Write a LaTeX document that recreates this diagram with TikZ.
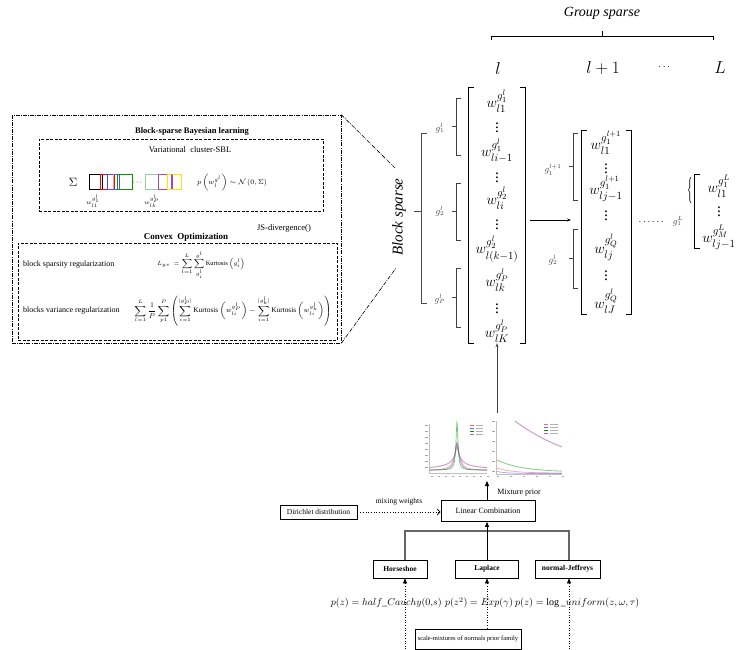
\documentclass[tikz,border=0pt]{standalone}
\usepackage{amsmath}
\usepackage{fontspec}
\setmainfont{Liberation Serif}
\usetikzlibrary{arrows.meta,decorations.pathreplacing}
\begin{document}
\begin{tikzpicture}[x=1pt,y=-1pt,
  txt/.style={inner sep=0pt, font=\fontsize{8}{9}\selectfont},
  ent/.style={inner sep=0pt, font=\fontsize{15.5}{16}\selectfont},
  glab/.style={inner sep=0pt, font=\fontsize{9}{10}\selectfont, text=black!75},
  bigl/.style={inner sep=0pt, font=\fontsize{16}{17}\selectfont},
  ddash/.style={dash pattern=on 3pt off 1.5pt, line width=0.7pt},
  dashdotline/.style={dash pattern=on 4pt off 1.2pt on 0.8pt off 1.2pt, line width=0.6pt},
  brk/.style={line width=0.6pt, black!75},
  mbrk/.style={line width=1.3pt},
  pbox/.style={draw, line width=0.8pt, inner sep=0pt, font=\fontsize{7.5}{9}\selectfont},
  thinarrow/.style={-{Stealth[length=4pt,width=3pt]}},
  tri/.style={-{Triangle[length=5pt,width=4pt]}},
]
\useasboundingbox (0,0) rectangle (737,649);

% ---------- Group sparse ----------
\node[inner sep=0, font=\fontsize{14}{16}\selectfont\itshape] (gs) at (602,13) {Group sparse};
\coordinate (gbL) at (491,40); \coordinate (gbR) at (713,40);
\coordinate (gbC) at (602,36); \coordinate (gbT) at (602,31);
\draw[line width=0.6pt] (gbL) -- (gbL |- gbC) -- (gbR |- gbC) -- (gbR);
\draw[line width=0.6pt] (gbC) -- (gbT);
\node[bigl] (ll) at (498,68) {$l$};
\node[bigl] (ll1) at (603,68) {$l+1$};
\node[inner sep=0, font=\fontsize{10}{11}\selectfont] (ldots) at (665,67) {$\cdots$};
\node[bigl] (lL) at (720,68) {$L$};

% ---------- left panel ----------
\node[draw, dashdotline, minimum width=329, minimum height=228, inner sep=0] (panel) at (176.5,229) {};
\node[draw, ddash, minimum width=284, minimum height=72, inner sep=0] (bsbl) at (181,175) {};
\node[draw, ddash, minimum width=319, minimum height=97, inner sep=0] (cvx) at (177.5,291.5) {};

\node[txt, font=\fontsize{8.5}{9}\selectfont\bfseries] (t1) at (192,131) {Block-sparse Bayesian learning};
\node[txt, font=\fontsize{8.5}{9}\selectfont] (t2) at (190,150) {Variational\ \ cluster-SBL};
\node[inner sep=0, font=\fontsize{12}{13}\selectfont] (sig) at (73,182) {$\Sigma$};
\draw[line width=0.6pt, black] (89,174) rectangle (102,189);
\draw[line width=0.6pt, red] (100,174) rectangle (114,189);
\draw[line width=0.6pt, blue!70] (107,174) rectangle (119,189);
\draw[line width=0.6pt, red!40] (113,174) -- (113,189);
\draw[line width=0.6pt, green!60!black] (117,174) rectangle (132,189);
\node[inner sep=0, font=\fontsize{8}{9}\selectfont] (rdots) at (138,183) {$\cdots$};
\draw[line width=0.6pt, green!50!black!40] (145,174) rectangle (158,189);
\draw[line width=0.6pt, violet!70] (158,174) rectangle (172,189);
\draw[line width=0.6pt, yellow!90!orange] (167,174) rectangle (181,189);
\draw[line width=0.6pt, violet!70] (171,174) -- (171,189);
\node[inner sep=0, font=\fontsize{6}{7}\selectfont] (wa) at (93,201) {$w_{l1}^{g_1^l}$};
\node[inner sep=0, font=\fontsize{6}{7}\selectfont] (wb) at (152,201) {$w_{lk}^{g_P^l}$};
\node[inner sep=0, font=\fontsize{7}{8}\selectfont] (pw) at (232,183) {$p\left(w_l^{g^l}\right)\sim\mathcal{N}\left(0,\Sigma\right)$};

\node[txt, font=\fontsize{8.5}{9}\selectfont] (js) at (284,228) {JS-divergence()};
\node[txt, font=\fontsize{9}{10}\selectfont\bfseries] (t3) at (186,237) {Convex\ \ Optimization};
\node[txt, anchor=west] (r1) at (23,265) {block sparsity regularization};
\node[txt, anchor=west] (r2) at (23,311) {blocks variance regularization};
\node[inner sep=0, font=\fontsize{6.5}{7}\selectfont] (f1) at (201,265)
  {$L_{gv}\ =\displaystyle\sum_{l=1}^{L}\sum_{g_i^l}^{g^l}\text{Kurtosis}\left(g_i^l\right)$};
\node[inner sep=0, font=\fontsize{7.3}{8}\selectfont] (f2) at (233,311)
  {$\displaystyle\sum_{l=1}^{L}\frac{1}{P}\sum_{p1}^{P}\left(\sum_{i=1}^{|g_P^l|}\text{Kurtosis}\left(w_{li}^{g_P^l}\right)-\sum_{i=1}^{|g_k^l|}\text{Kurtosis}\left(w_{li}^{g_k^l}\right)\right)$};

% zoom lines
\coordinate (bsT) at (395,168);
\coordinate (bsB) at (396,268);
\draw[dashdotline] (panel.north east) -- (bsT);
\draw[dashdotline] (panel.south east) -- (bsB);
\node[rotate=90, inner sep=0, font=\fontsize{15}{16}\selectfont\itshape] (bs) at (399,217) {Block sparse};

% block brace
\draw[line width=1pt, black!70] (427,133) -- (421,133) -- (421,303) -- (427,303);
\draw[line width=1pt, black!70] (421,211) -- (414,211);
\node[glab] (g1) at (440,128) {$g_1^l$};
\node[glab] (g2) at (440,211) {$g_2^l$};
\node[glab] (gp) at (440,299) {$g_P^l$};
% small brackets
\foreach \a/\b in {98/155,183/240,268/327}{
  \draw[brk] (461,\a) -- (456,\a) -- (456,\b) -- (461,\b);
  \draw[brk] (456,{(\a+\b)/2}) -- (452,{(\a+\b)/2});
}

% ---------- matrix 1 ----------
\node[inner sep=0, minimum width=56, minimum height=255] (M1) at (497,215.5) {};
\draw[mbrk] ([xshift=5pt]M1.north west) -- (M1.north west) -- (M1.south west) -- ([xshift=5pt]M1.south west);
\draw[mbrk] ([xshift=-5pt]M1.north east) -- (M1.north east) -- (M1.south east) -- ([xshift=-5pt]M1.south east);
\node[ent] (e1) at (497,101) {$w_{l1}^{g_1^l}$};
\node[ent] (e2) at (497,125) {$\vdots$};
\node[ent] (e3) at (497,151) {$w_{li-1}^{g_1^l}$};
\node[ent] (e4) at (497,175) {$\vdots$};
\node[ent] (e5) at (497,198) {$w_{li}^{g_2^l}$};
\node[ent] (e6) at (497,222) {$\vdots$};
\node[ent] (e7) at (497,249) {$w_{l(k-1)}^{g_2^l}$};
\node[ent] (e8) at (497,280) {$w_{lk}^{g_P^l}$};
\node[ent] (e9) at (497,306) {$\vdots$};
\node[ent] (e10) at (497,331) {$w_{lK}^{g_P^l}$};

\coordinate (arrS) at (530,220);
\coordinate (arrE) at (571,220);
\draw[thinarrow, line width=0.7pt] (arrS) -- (arrE);

% ---------- matrix 2 ----------
\node[glab] (h1) at (553,170) {$g_1^{l+1}$};
\node[glab] (h2) at (553,260) {$g_2^l$};
\foreach \a/\b in {133/200,229/288}{
  \draw[brk] (578,\a) -- (573,\a) -- (573,\b) -- (578,\b);
  \draw[brk] (573,{(\a+\b)/2}) -- (569,{(\a+\b)/2});
}
\node[inner sep=0, minimum width=49, minimum height=183] (M2) at (606.5,222.5) {};
\draw[mbrk] ([xshift=5pt]M2.north west) -- (M2.north west) -- (M2.south west) -- ([xshift=5pt]M2.south west);
\draw[mbrk] ([xshift=-5pt]M2.north east) -- (M2.north east) -- (M2.south east) -- ([xshift=-5pt]M2.south east);
\node[ent] (m1) at (606,143) {$w_{l1}^{g_1^{l+1}}$};
\node[ent] (m2) at (606,166) {$\vdots$};
\node[ent] (m3) at (606,189) {$w_{lj-1}^{g_1^{l+1}}$};
\node[ent] (m4) at (606,213) {$\vdots$};
\node[ent] (m5) at (606,247) {$w_{lj}^{g_Q^l}$};
\node[ent] (m6) at (606,273) {$\vdots$};
\node[ent] (m7) at (606,301) {$w_{lJ}^{g_Q^l}$};

\node[inner sep=0, font=\fontsize{10}{11}\selectfont] (dd) at (652,222) {$\cdots\cdots$};
\node[glab] (k1) at (678,221) {$g_1^L$};

% ---------- matrix 3 ----------
\draw[line width=0.6pt, decorate, decoration={brace, amplitude=2.5pt}] (691,203) -- (691,177);
\node[inner sep=0, minimum width=42, minimum height=73] (M3) at (716,211.5) {};
\draw[mbrk] ([xshift=5pt]M3.north west) -- (M3.north west) -- (M3.south west) -- ([xshift=5pt]M3.south west);
\node[ent] (n1) at (719,186) {$w_{l1}^{g_1^L}$};
\node[ent] (n2) at (719,209) {$\vdots$};
\node[ent] (n3) at (719,237) {$w_{lj-1}^{g_M^L}$};

% ---------- charts ----------
\draw[black!25, line width=0.3pt] (429,424) -- (429,473) -- (487,473);
\foreach \yy in {425,431,...,470} \draw[black!35, line width=0.4pt] (425,\yy) -- (427.5,\yy);
\foreach \xx in {431,438,...,487} \draw[black!35, line width=0.4pt] (\xx,476) -- (\xx+1.5,476);
\draw[violet!60, opacity=0.7, line width=0.9pt, domain=430:487, samples=120] plot (\x,{470-26/(1+abs(\x-457)/3)});
\draw[red!60, opacity=0.6, line width=0.7pt, domain=430:487, samples=120] plot (\x,{470-26/(1+((\x-457)/3)^2)});
\draw[blue!60, opacity=0.6, line width=0.7pt, domain=430:487, samples=120] plot (\x,{470.5-28/(1+((\x-457)/2.5)^2)});
\draw[green!60!black, opacity=0.55, line width=0.7pt, domain=430:487, samples=160] plot (\x,{470-48/(1+((\x-457)/1.2)^2)});
\foreach \yy/\cc in {425/red!60,428/blue!60,431/green!60!black,434/violet!60}{
  \draw[\cc, line width=0.5pt] (470,\yy) -- (474,\yy);
  \draw[black!30, line width=0.6pt] (475.5,\yy) -- (483,\yy);
}
\draw[black!25, line width=0.3pt] (496,421) -- (496,474) -- (562,474);
\foreach \yy in {421,431,...,471} \draw[black!35, line width=0.4pt] (492,\yy) -- (494.5,\yy);
\foreach \xx in {497,510,...,562} \draw[black!35, line width=0.4pt] (\xx,476.5) -- (\xx+1.5,476.5);
\draw[violet!55, opacity=0.7, line width=1pt, domain=515:562, samples=60] plot (\x,{474-53*exp(-(\x-515)/70)});
\draw[green!60!black, opacity=0.5, line width=0.8pt, domain=497:562, samples=60] plot (\x,{472-12*exp(-(\x-497)/25)});
\draw[red!60, opacity=0.6, line width=0.7pt, domain=497:562, samples=60] plot (\x,{473-5*exp(-(\x-497)/15)});
\draw[blue!60, opacity=0.6, line width=0.7pt, domain=497:562, samples=60] plot (\x,{473.5-2*exp(-(\x-497)/10)});
\foreach \yy/\cc in {424/red!60,427/blue!60,430/green!60!black,433/violet!60}{
  \draw[\cc, line width=0.5pt] (544,\yy) -- (548,\yy);
  \draw[black!30, line width=0.6pt] (549.5,\yy) -- (558,\yy);
}
\coordinate (chtop) at (497,413);
\coordinate (chbot) at (487,481);
\draw[thinarrow, black!75, line width=0.8pt] (chtop) -- (M1.south);

% ---------- bottom ----------
\node[pbox, minimum width=94, minimum height=21, font=\fontsize{8}{9}\selectfont] (LC) at (488,511) {Linear Combination};
\node[pbox, minimum width=77, minimum height=14] (D) at (318.5,512) {Dirichlet distribution};
\draw[dotted, line width=0.7pt, -{Straight Barb[length=3pt]}] (D.east) -- (D.east -| LC.west);
\node[txt, font=\fontsize{7.5}{8}\selectfont] (mw) at (399,502) {mixing weights};
\draw[tri, line width=0.8pt] (LC.north -| chbot) -- (chbot);
\node[txt, font=\fontsize{8}{9}\selectfont] (mp) at (519,493) {Mixture prior};

\node[pbox, minimum width=54, minimum height=18, font=\fontsize{7.5}{9}\selectfont\bfseries] (H) at (400,569) {Horseshoe};
\node[pbox, minimum width=63, minimum height=18, font=\fontsize{7.5}{9}\selectfont\bfseries] (La) at (487,569) {Laplace};
\node[pbox, minimum width=65, minimum height=18, font=\fontsize{7.5}{9}\selectfont\bfseries] (NJ) at (567.5,569) {normal-Jeffreys};
\coordinate (bar) at (0,531);
\coordinate (hx) at (405,649);
\coordinate (lx) at (487,649);
\coordinate (nx) at (569,649);
\draw[black!60, line width=1.5pt] (hx |- H.north) -- (hx |- bar) -- (nx |- bar) -- (nx |- NJ.north);
\draw[tri, line width=0.8pt] (La.north) -- (La.north |- LC.south);
\foreach \c/\n in {hx/H,lx/La,nx/NJ}{
  \draw[dotted, line width=0.6pt, tri] (\c) -- (\c |- \n.south);
}
\node[inner sep=0, anchor=east, font=\fontsize{10}{11}\selectfont] (F1) at (442,603) {$p(z)=half\_Cauchy(0{,}s)$};
\node[inner sep=0, font=\fontsize{10}{11}\selectfont] (F2) at (479,603) {$p(z^2)=Exp(\gamma)$};
\node[inner sep=0, anchor=west, font=\fontsize{10}{11}\selectfont] (F3) at (515,603) {$p(z)=\log\_uniform(z,\omega,\tau)$};
\node[pbox, fill=white, minimum width=106, minimum height=20, font=\fontsize{6.5}{8}\selectfont] (SM) at (468,639) {scale-mixtures of normals prior family};
\end{tikzpicture}
\end{document}
